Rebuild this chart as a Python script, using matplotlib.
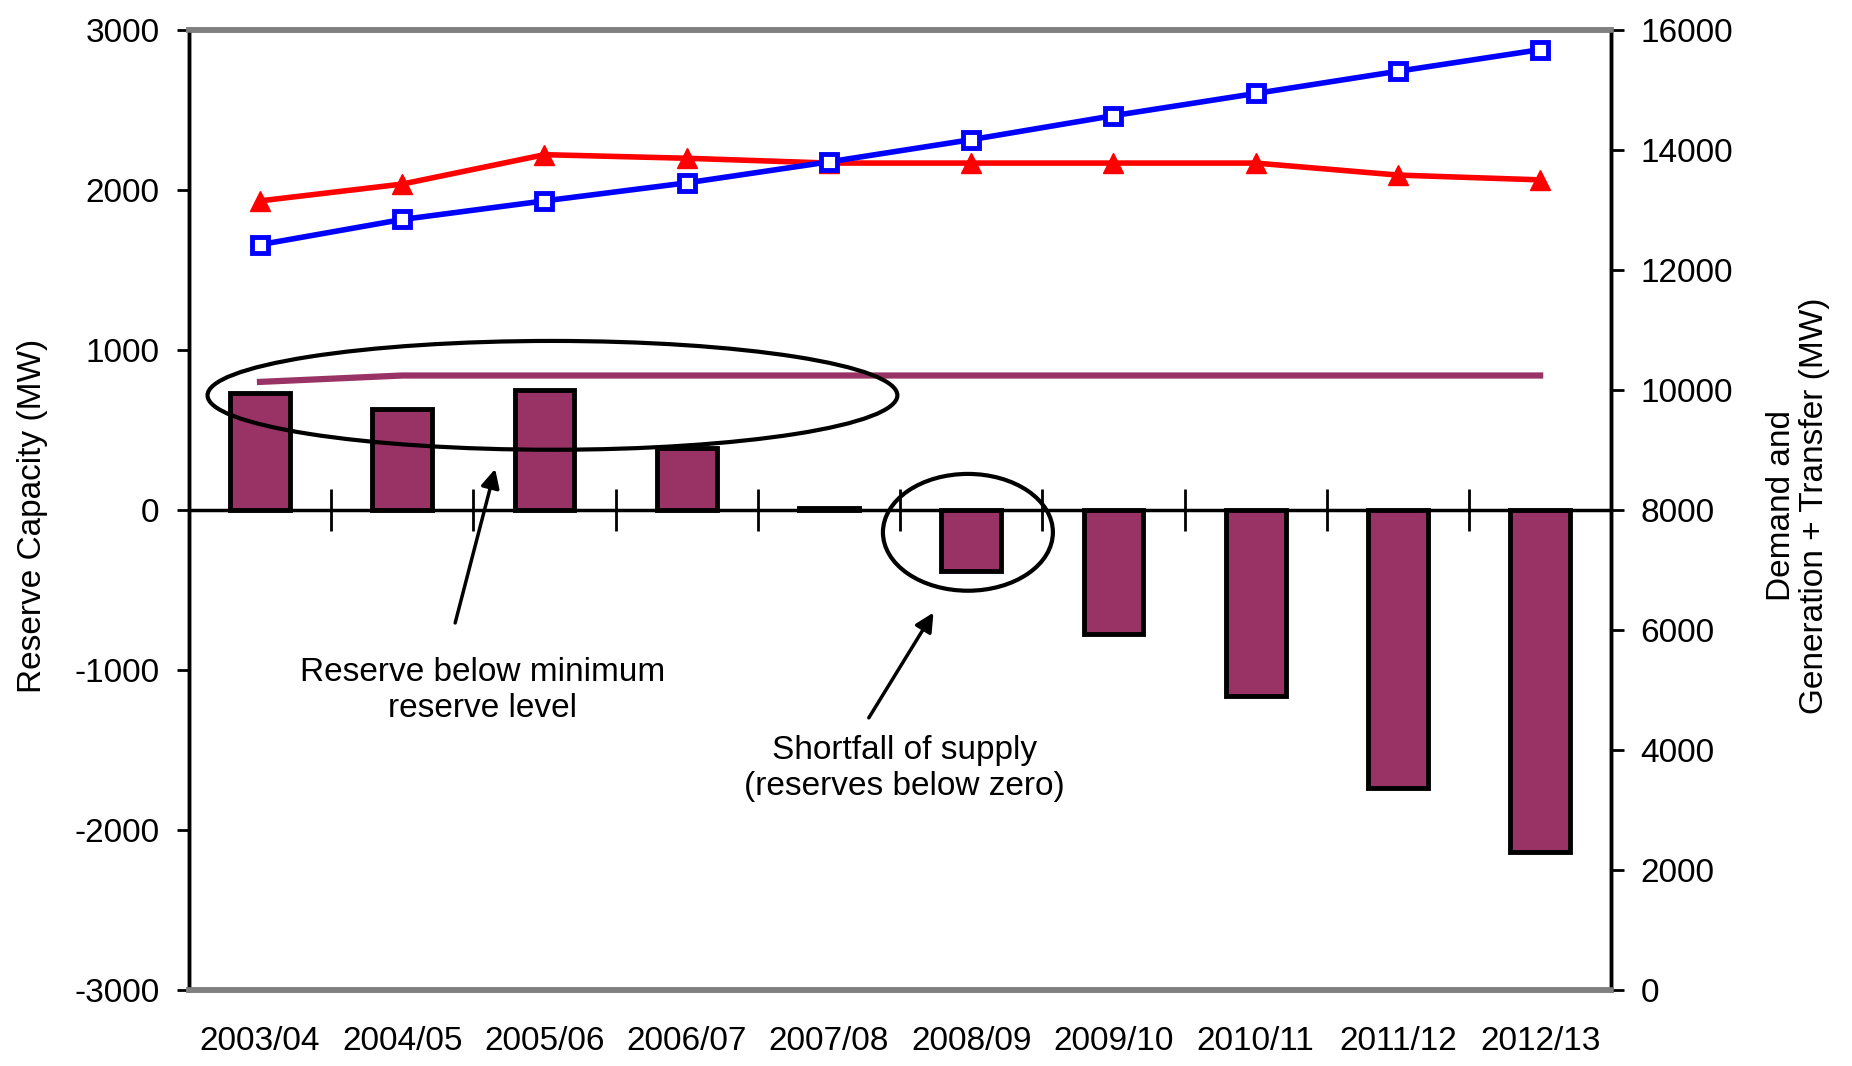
import matplotlib
matplotlib.use("Agg")
import matplotlib.pyplot as plt
import numpy as np
from matplotlib.patches import Ellipse

plt.rcParams['font.family'] = ['Liberation Sans', 'DejaVu Sans']
plt.rcParams['axes.unicode_minus'] = False

years = ["2003/04", "2004/05", "2005/06", "2006/07", "2007/08",
         "2008/09", "2009/10", "2010/11", "2011/12", "2012/13"]
reserve = [730, 630, 750, 390, 15, -380, -775, -1160, -1735, -2140]
min_reserve = [800, 840, 840, 840, 840, 840, 840, 840, 840, 840]
generation = [13150, 13430, 13920, 13860, 13780, 13780, 13780, 13780, 13580, 13500]
demand = [12420, 12840, 13150, 13450, 13800, 14170, 14570, 14940, 15310, 15670]

BAR_COLOR = "#993366"
FS = 24

x = np.arange(len(years))

fig = plt.figure(figsize=(18.52, 10.66), dpi=100)
ax = fig.add_axes([0.102, 0.0713, 0.768, 0.9007])
ax2 = ax.twinx()

# reserve bars + minimum reserve level
ax.bar(x, reserve, width=0.42, color=BAR_COLOR, edgecolor="black", linewidth=3.5, zorder=2)
ax.plot(x, min_reserve, color=BAR_COLOR, lw=4.5, zorder=3)

ax.set_xlim(-0.5, len(years) - 0.5)
ax.set_ylim(-3000, 3000)
ax.set_yticks(np.arange(-3000, 3001, 1000))
ax.set_xticks(x)
ax.set_xticklabels(years)
ax.tick_params(axis="x", length=0, pad=26, labelsize=FS)
ax.tick_params(axis="y", direction="out", length=9, width=2, pad=12, labelsize=FS)

# zero line with category separators
zero = ax.secondary_xaxis(0.5)
zero.set_xticks(x[:-1] + 0.5)
zero.set_xticklabels([])
zero.tick_params(direction="inout", length=30, width=2)
for s in zero.spines.values():
    s.set_color("black")
    s.set_linewidth(2.5)

# demand / generation lines on right axis
ax2.plot(x, generation, color="red", lw=4, marker="^", markersize=14,
         markerfacecolor="red", markeredgecolor="red", zorder=4)
ax2.plot(x, demand, color="blue", lw=4, marker="s", markersize=12,
         markerfacecolor="white", markeredgecolor="blue", markeredgewidth=3.5, zorder=4)
ax2.set_ylim(0, 16000)
ax2.set_yticks(np.arange(0, 16001, 2000))
ax2.tick_params(axis="y", direction="out", length=9, width=2, pad=12, labelsize=FS)

for a in (ax, ax2):
    a.spines["top"].set_color("#808080")
    a.spines["bottom"].set_color("#808080")
    a.spines["top"].set_linewidth(4)
    a.spines["bottom"].set_linewidth(4)
    a.spines["left"].set_color("black")
    a.spines["right"].set_color("black")
    a.spines["left"].set_linewidth(2.5)
    a.spines["right"].set_linewidth(2.5)

fig.text(0.0178, 0.516, "Reserve Capacity (MW)", rotation=90, ha="center", va="center", fontsize=FS)
fig.text(0.971, 0.526, "Demand and\nGeneration + Transfer (MW)", rotation=90,
         ha="center", va="center", fontsize=FS, multialignment="center", linespacing=1.1)

# annotations
ax.add_patch(Ellipse((2.056, 716), 4.85, 680, fill=False, edgecolor="black", lw=3, zorder=5))
ax.add_patch(Ellipse((4.977, -140), 1.195, 730, fill=False, edgecolor="black", lw=3, zorder=5))

ax.annotate("", xy=(1.658, 273), xytext=(1.367, -723),
            arrowprops=dict(arrowstyle="-|>", color="black", lw=2.5, mutation_scale=28))
ax.annotate("", xy=(4.745, -627), xytext=(4.27, -1314),
            arrowprops=dict(arrowstyle="-|>", color="black", lw=2.5, mutation_scale=28))

ax.text(1.566, -1129, "Reserve below minimum\nreserve level", ha="center", va="center",
        fontsize=FS, linespacing=1.2)
ax.text(4.529, -1616, "Shortfall of supply\n(reserves below zero)", ha="center", va="center",
        fontsize=FS, linespacing=1.2)

fig.savefig("out.png", dpi=100)
